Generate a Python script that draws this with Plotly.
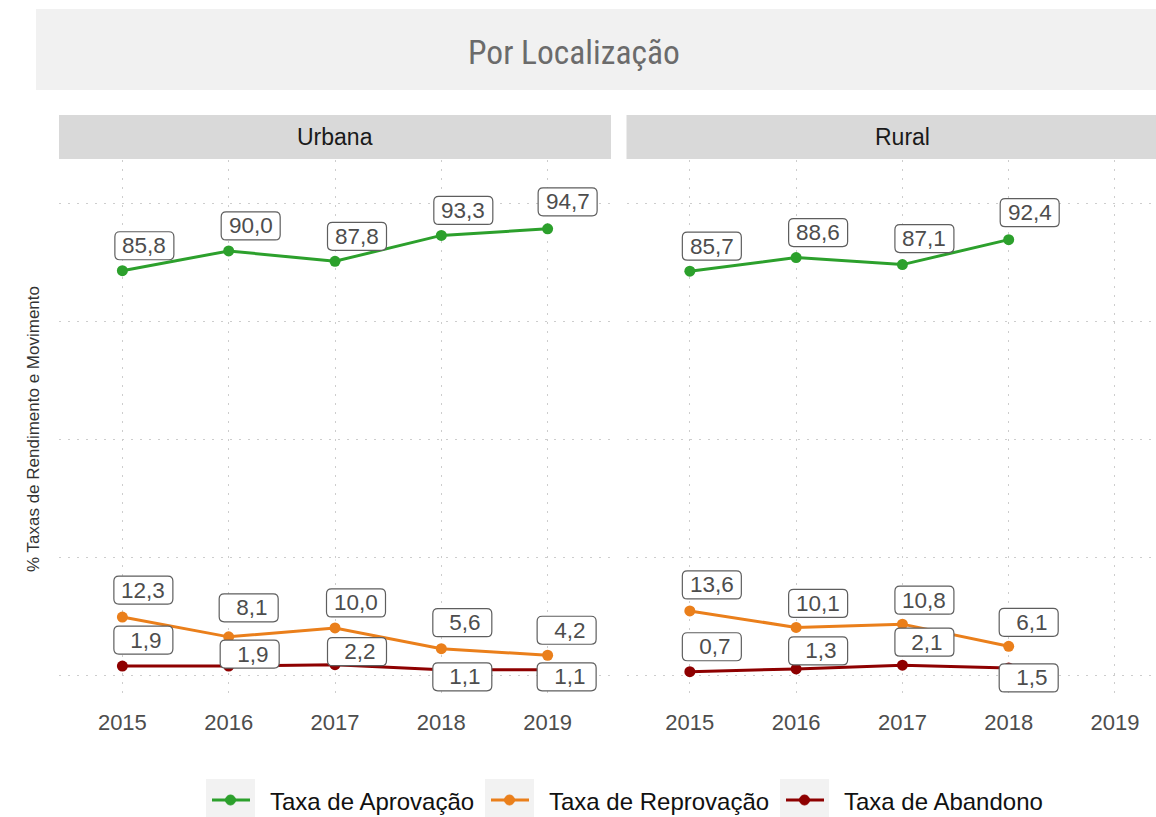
import plotly.graph_objects as go

# ---- data -------------------------------------------------------------
years = [2015, 2016, 2017, 2018, 2019]

urbana_aprovacao = [85.8, 90.0, 87.8, 93.3, 94.7]
urbana_reprovacao = [12.3, 8.1, 10.0, 5.6, 4.2]
urbana_abandono = [1.9, 1.9, 2.2, 1.1, 1.1]

rural_years = [2015, 2016, 2017, 2018]
rural_aprovacao = [85.7, 88.6, 87.1, 92.4]
rural_reprovacao = [13.6, 10.1, 10.8, 6.1]
rural_abandono = [0.7, 1.3, 2.1, 1.5]

series_names = ["Taxa de Aprovação", "Taxa de Reprovação", "Taxa de Abandono"]
series_colors = ["#2ca02c", "#ea7f1b", "#8e0000"]

# label offsets (pixels, right / up) used to keep value boxes apart
urbana_offsets = [
    [(22, 25), (22, 25), (22, 25), (22, 25), (20, 27)],
    [(21, 27), (20, 29), (21, 25), (21, 26), (19, 25)],
    [(21, 26), (21, 12), (22, 13), (21, -7), (19, -7)],
]
rural_offsets = [
    [(22, 25), (22, 25), (22, 26), (21, 27)],
    [(22, 26), (22, 24), (22, 24), (20, 24)],
    [(22, 25), (22, 18), (22, 23), (20, -10)],
]

W, H = 1156, 817


def px_x(p):
    return p / W


def px_y(p):
    return 1 - p / H


fig = go.Figure()

panels = [
    ("x", "y", years, [urbana_aprovacao, urbana_reprovacao, urbana_abandono], urbana_offsets),
    ("x2", "y2", rural_years, [rural_aprovacao, rural_reprovacao, rural_abandono], rural_offsets),
]

shapes = []
annotations = []

BOX_HW, BOX_HH, BOX_R = 29.5, 14, 5


def rounded_box(cx, cy):
    x0, x1 = cx - BOX_HW, cx + BOX_HW
    y0, y1 = cy - BOX_HH, cy + BOX_HH
    r = BOX_R
    return (
        f"M{x0 + r},{y0} L{x1 - r},{y0} Q{x1},{y0} {x1},{y0 + r} "
        f"L{x1},{y1 - r} Q{x1},{y1} {x1 - r},{y1} L{x0 + r},{y1} "
        f"Q{x0},{y1} {x0},{y1 - r} L{x0},{y0 + r} Q{x0},{y0} {x0 + r},{y0} Z"
    )


def fmt(v):
    s = f"{v:.1f}".replace(".", ",")
    return s if len(s) >= 4 else "\u00a0" + s


for xa, ya, xs, values, offsets in panels:
    for name, color, vals, offs in zip(series_names, series_colors, values, offsets):
        fig.add_trace(go.Scatter(
            x=xs, y=vals, mode="lines+markers", name=name,
            xaxis=xa, yaxis=ya, showlegend=False,
            line=dict(color=color, width=3),
            marker=dict(color=color, size=11),
            hoverinfo="skip",
        ))
        for xv, yv, (dx, dy) in zip(xs, vals, offs):
            shapes.append(dict(
                type="path", xref=xa, yref=ya,
                xsizemode="pixel", ysizemode="pixel",
                xanchor=xv, yanchor=yv,
                path=rounded_box(dx, dy),
                fillcolor="white", line=dict(color="#5e5e5e", width=1.2),
                layer="above",
            ))
            annotations.append(dict(
                x=xv, y=yv, xref=xa, yref=ya, xshift=dx, yshift=dy,
                text=fmt(yv), showarrow=False,
                xanchor="center", yanchor="middle",
                font=dict(family="Liberation Sans, Arial, sans-serif", size=22.5, color="#4d4d4d"),
            ))

# ---- title band and facet strips --------------------------------------
shapes.append(dict(type="rect", xref="paper", yref="paper",
                   x0=px_x(36), x1=1, y0=px_y(90), y1=px_y(9),
                   fillcolor="#f1f1f1", line=dict(width=0), layer="below"))
annotations.append(dict(x=px_x(574), y=px_y(53), xref="paper", yref="paper",
                        text="Por Localização", showarrow=False,
                        xanchor="center", yanchor="middle",
                        font=dict(family="Liberation Sans Narrow, Arial Narrow, Roboto Condensed, sans-serif",
                                  size=33.5, color="#6b6b6b")))

for (x0, x1, label, cx) in [(59, 611, "Urbana", 335), (626.5, W, "Rural", 902.5)]:
    shapes.append(dict(type="rect", xref="paper", yref="paper",
                       x0=px_x(x0), x1=px_x(x1), y0=px_y(159), y1=px_y(115),
                       fillcolor="#d9d9d9", line=dict(width=0), layer="below"))
    annotations.append(dict(x=px_x(cx), y=px_y(137), xref="paper", yref="paper",
                            text=label, showarrow=False, xanchor="center", yanchor="middle",
                            font=dict(family="Liberation Sans, Arial, sans-serif", size=23, color="#1a1a1a")))

# ---- legend ------------------------------------------------------------
legend_items = [(206, series_names[0], series_colors[0]),
                (485, series_names[1], series_colors[1]),
                (780, series_names[2], series_colors[2])]
for bx, name, color in legend_items:
    shapes.append(dict(type="rect", xref="paper", yref="paper",
                       x0=px_x(bx), x1=px_x(bx + 49), y0=px_y(817), y1=px_y(779),
                       fillcolor="#f2f2f2", line=dict(width=0)))
    shapes.append(dict(type="line", xref="paper", yref="paper",
                       x0=px_x(bx + 6), x1=px_x(bx + 44), y0=px_y(800), y1=px_y(800),
                       line=dict(color=color, width=3)))
    shapes.append(dict(type="circle", xref="paper", yref="paper",
                       x0=px_x(bx + 19.5), x1=px_x(bx + 29.5), y0=px_y(805), y1=px_y(795),
                       fillcolor=color, line=dict(color=color, width=1)))
    annotations.append(dict(x=px_x(bx + 62), y=px_y(801), xref="paper", yref="paper",
                            text=name, showarrow=False, xanchor="left", yanchor="middle",
                            font=dict(family="Liberation Sans, Arial, sans-serif", size=24, color="#111111")))

# ---- axes ---------------------------------------------------------------
grid = dict(showgrid=True, gridcolor="#cdcdcd", gridwidth=1, griddash="2px,7px",
            zeroline=False, showline=False, ticks="")
ydom = [px_y(700), px_y(160)]
xaxis_common = dict(tickvals=years, ticktext=[str(y) for y in years],
                    tickfont=dict(family="Liberation Sans, Arial, sans-serif", size=22, color="#4d4d4d"),
                    ticklabelstandoff=7, **grid)
yaxis_common = dict(range=[-5.3, 109.3], tickvals=[0, 25, 50, 75, 100], showticklabels=False, **grid)

fig.update_layout(
    width=W, height=H, margin=dict(l=0, r=0, t=0, b=0),
    paper_bgcolor="white", plot_bgcolor="white",
    xaxis=dict(domain=[px_x(59), px_x(611)], range=[2014.404, 2019.596], anchor="y", **xaxis_common),
    xaxis2=dict(domain=[px_x(626.5), 1], range=[2014.404, 2019.386], anchor="y2", **xaxis_common),
    yaxis=dict(domain=ydom, anchor="x", **yaxis_common),
    yaxis2=dict(domain=ydom, anchor="x2", matches="y", **yaxis_common),
    shapes=shapes,
    annotations=annotations + [dict(
        x=px_x(33), y=px_y(429), xref="paper", yref="paper",
        text="% Taxas de Rendimento e Movimento", textangle=-90, showarrow=False,
        xanchor="center", yanchor="middle",
        font=dict(family="Liberation Sans, Arial, sans-serif", size=17, color="#333333"))],
    showlegend=False,
)

fig.write_html("out.html")
